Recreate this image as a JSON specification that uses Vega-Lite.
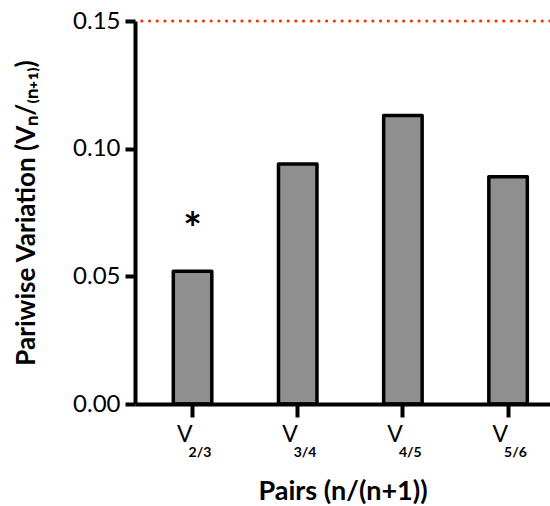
{
  "$schema": "https://vega.github.io/schema/vega-lite/v6.json",
  "width": 415,
  "height": 383,
  "autosize": {"type": "none"},
  "padding": {"left": 135, "top": 21, "right": 0, "bottom": 102},
  "background": "white",
  "config": {"view": {"stroke": null}, "font": "Lato"},
  "data": {"values": [
    {"pair": "2/3", "v": 0.052, "sig": "*"},
    {"pair": "3/4", "v": 0.094, "sig": ""},
    {"pair": "4/5", "v": 0.113, "sig": ""},
    {"pair": "5/6", "v": 0.089, "sig": ""}
  ]},
  "resolve": {"scale": {"y": "shared"}},
  "layer": [
    {
      "mark": {"type": "bar", "fill": "#8f8f8f", "stroke": "black", "strokeWidth": 3.5, "strokeJoin": "round"},
      "encoding": {
        "x": {
          "field": "pair", "type": "ordinal", "sort": null,
          "scale": {"paddingInner": 0.634, "paddingOuter": 0.29, "align": 0.628},
          "axis": {
            "zindex": 1,
            "domainWidth": 4, "domainColor": "black",
            "tickWidth": 4, "tickColor": "black", "tickSize": 13,
            "labelExpr": "'V'", "labelFontSize": 23, "labelColor": "black",
            "labelAlign": "right", "labelDx": -6, "labelPadding": 6, "labelAngle": 0,
            "title": "Pairs (n/(n+1))", "titleFontSize": 27, "titleFontWeight": "bold",
            "titleColor": "black", "titlePadding": 32, "titleDx": 6
          }
        },
        "y": {
          "field": "v", "type": "quantitative",
          "scale": {"domain": [0, 0.15], "nice": false, "zero": true},
          "axis": {
            "zindex": 1,
            "values": [0, 0.05, 0.1, 0.15], "format": ".2f", "grid": false,
            "domainWidth": 4, "domainColor": "black",
            "tickWidth": 4, "tickColor": "black", "tickSize": 10,
            "labelFontSize": 24, "labelColor": "black", "labelPadding": 5,
            "title": "Pariwise Variation (Vₙ/₍ₙ₊₁₎)", "titleFontSize": 26, "titleFontWeight": "bold",
            "titleColor": "black", "titlePadding": 33
          }
        }
      }
    },
    {
      "data": {"values": [{}]},
      "mark": {"type": "rule", "color": "#ff2a00", "strokeWidth": 3, "strokeDash": [0.1, 7.6], "strokeCap": "round"},
      "encoding": {"y": {"datum": 0.15, "type": "quantitative", "scale": {"domain": [0, 0.15], "nice": false}}}
    },
    {
      "mark": {"type": "text", "align": "left", "baseline": "alphabetic", "dx": -4, "dy": 53, "fontSize": 14, "fontWeight": "bold", "color": "black"},
      "encoding": {
        "x": {"field": "pair", "type": "ordinal", "sort": null},
        "y": {"datum": 0, "type": "quantitative", "scale": {"domain": [0, 0.15], "nice": false}},
        "text": {"field": "pair"}
      }
    },
    {
      "mark": {"type": "text", "align": "center", "baseline": "middle", "dy": -40, "fontSize": 44, "fontWeight": "bold", "color": "black"},
      "encoding": {
        "x": {"field": "pair", "type": "ordinal", "sort": null},
        "y": {"field": "v", "type": "quantitative", "scale": {"domain": [0, 0.15], "nice": false}},
        "text": {"field": "sig"}
      }
    }
  ]
}
